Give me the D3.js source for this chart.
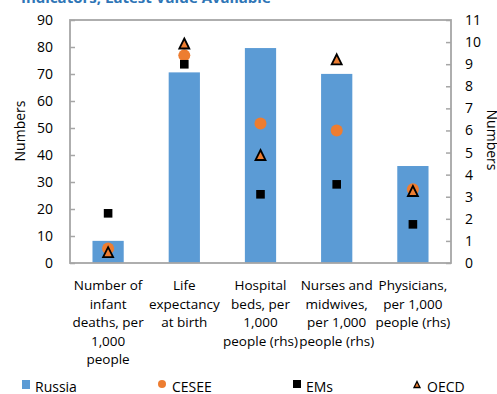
<!DOCTYPE html>
<html>
<head>
<meta charset="utf-8">
<script src="https://cdn.jsdelivr.net/npm/d3@7"></script>
<style>
  html, body { margin: 0; padding: 0; background: #fff; }
  svg { display: block; font-family: "Open Sans", "Noto Sans", sans-serif; }
</style>
</head>
<body>
<svg id="chart" width="497" height="394"></svg>
<script>
// Health indicators: Russia vs. peer groups
const categories = [
  ["Number of", "infant", "deaths, per", "1,000", "people"],
  ["Life", "expectancy", "at birth"],
  ["Hospital", "beds, per", "1,000", "people (rhs)"],
  ["Nurses and", "midwives,", "per 1,000", "people (rhs)"],
  ["Physicians,", "per 1,000", "people (rhs)"]
];
// which value axis each indicator is read against
const axisSide = ["lhs", "lhs", "rhs", "rhs", "rhs"];
const russia = [8.2, 70.6, 9.73, 8.56, 4.39];
const cesee  = [5.4, 76.9, 6.32, 6.0, 3.34];
const ems    = [18.4, 73.6, 3.11, 3.56, 1.75];
const oecd   = [4.0, 81.3, 4.89, 9.22, 3.26];
const leftTicks = d3.range(0, 91, 10);
const rightTicks = d3.range(0, 12, 1);
const title = "Indicators, Latest Value Available";

const svg = d3.select("#chart");
const plot = { left: 70, right: 451, top: 20, bottom: 263 };

const x = d3.scaleBand()
  .domain(d3.range(categories.length))
  .range([plot.left, plot.right])
  .paddingInner(0.59).paddingOuter(0.295);
const yL = d3.scaleLinear().domain([0, 90]).range([plot.bottom, plot.top]);
const yR = d3.scaleLinear().domain([0, 11]).range([plot.bottom, plot.top]);
const yFor = i => axisSide[i] === "lhs" ? yL : yR;
const cx = i => x(i) + x.bandwidth() / 2;

const blue = "#5B9BD5", orange = "#ED7D31", frame = "#A6A6A6";

// title (partly above the canvas)
svg.append("text").attr("x", 21).attr("y", 3)
  .attr("font-size", 15).attr("font-weight", 700).attr("fill", "#2E75B6")
  .text(title);

// bars
svg.append("g").selectAll("rect").data(russia).join("rect")
  .attr("x", (d, i) => x(i))
  .attr("width", x.bandwidth())
  .attr("y", (d, i) => yFor(i)(d))
  .attr("height", (d, i) => plot.bottom - yFor(i)(d))
  .attr("fill", blue);

// frame and axes
const axL = d3.axisLeft(yL).tickValues(leftTicks).tickSize(-5).tickPadding(17);
const axR = d3.axisRight(yR).tickValues(rightTicks).tickSize(-5).tickPadding(14);
const gL = svg.append("g").attr("transform", `translate(${plot.left},0)`).call(axL);
const gR = svg.append("g").attr("transform", `translate(${plot.right},0)`).call(axR);
[gL, gR].forEach(g => {
  g.select(".domain").remove();
  g.selectAll(".tick line").attr("stroke", frame).attr("stroke-width", 1.5);
  g.selectAll(".tick text").attr("font-size", 14).attr("fill", "#000")
    .attr("font-family", "'Open Sans', 'Noto Sans', sans-serif");
});
svg.append("rect")
  .attr("x", plot.left).attr("y", plot.top)
  .attr("width", plot.right - plot.left).attr("height", plot.bottom - plot.top)
  .attr("fill", "none").attr("stroke", frame).attr("stroke-width", 1.8);

// markers
const tri = (s) => `M0,${-s / 2}L${s / 2},${s / 2}L${-s / 2},${s / 2}Z`;
const markers = svg.append("g");
markers.selectAll("circle").data(cesee).join("circle")
  .attr("cx", (d, i) => cx(i)).attr("cy", (d, i) => yFor(i)(d))
  .attr("r", 6).attr("fill", orange);
markers.selectAll("rect.ems").data(ems).join("rect").attr("class", "ems")
  .attr("x", (d, i) => cx(i) - 4.3).attr("y", (d, i) => yFor(i)(d) - 4.3)
  .attr("width", 8.6).attr("height", 8.6).attr("fill", "#000");
markers.selectAll("path.oecd").data(oecd).join("path").attr("class", "oecd")
  .attr("transform", (d, i) => `translate(${cx(i)},${yFor(i)(d)})`)
  .attr("d", tri(10)).attr("fill", orange)
  .attr("stroke", "#000").attr("stroke-width", 1.8).attr("stroke-linejoin", "miter");

// category labels
const lab = svg.append("g").attr("font-size", 13.5).attr("text-anchor", "middle");
categories.forEach((lines, i) => {
  const t = lab.append("text").attr("x", cx(i)).attr("y", 290);
  lines.forEach((s, k) => t.append("tspan").attr("x", cx(i)).attr("dy", k ? 18.6 : 0).text(s));
});

// axis titles
svg.append("text").attr("transform", "translate(25,131) rotate(-90)")
  .attr("text-anchor", "middle").attr("font-size", 14).text("Numbers");
svg.append("text").attr("transform", "translate(487,140) rotate(90)")
  .attr("text-anchor", "middle").attr("font-size", 14).text("Numbers");

// legend
const lg = svg.append("g").attr("font-size", 14);
lg.append("rect").attr("x", 22).attr("y", 380).attr("width", 8).attr("height", 9).attr("fill", blue);
lg.append("text").attr("x", 35).attr("y", 392).text("Russia");
lg.append("circle").attr("cx", 162).attr("cy", 384).attr("r", 4).attr("fill", orange);
lg.append("text").attr("x", 172).attr("y", 392).text("CESEE");
lg.append("rect").attr("x", 293).attr("y", 380).attr("width", 8).attr("height", 8).attr("fill", "#000");
lg.append("text").attr("x", 306).attr("y", 392).text("EMs");
lg.append("path").attr("transform", "translate(417,384.5)").attr("d", tri(6))
  .attr("fill", orange).attr("stroke", "#000").attr("stroke-width", 1.3);
lg.append("text").attr("x", 427).attr("y", 392).text("OECD");
</script>
</body>
</html>
